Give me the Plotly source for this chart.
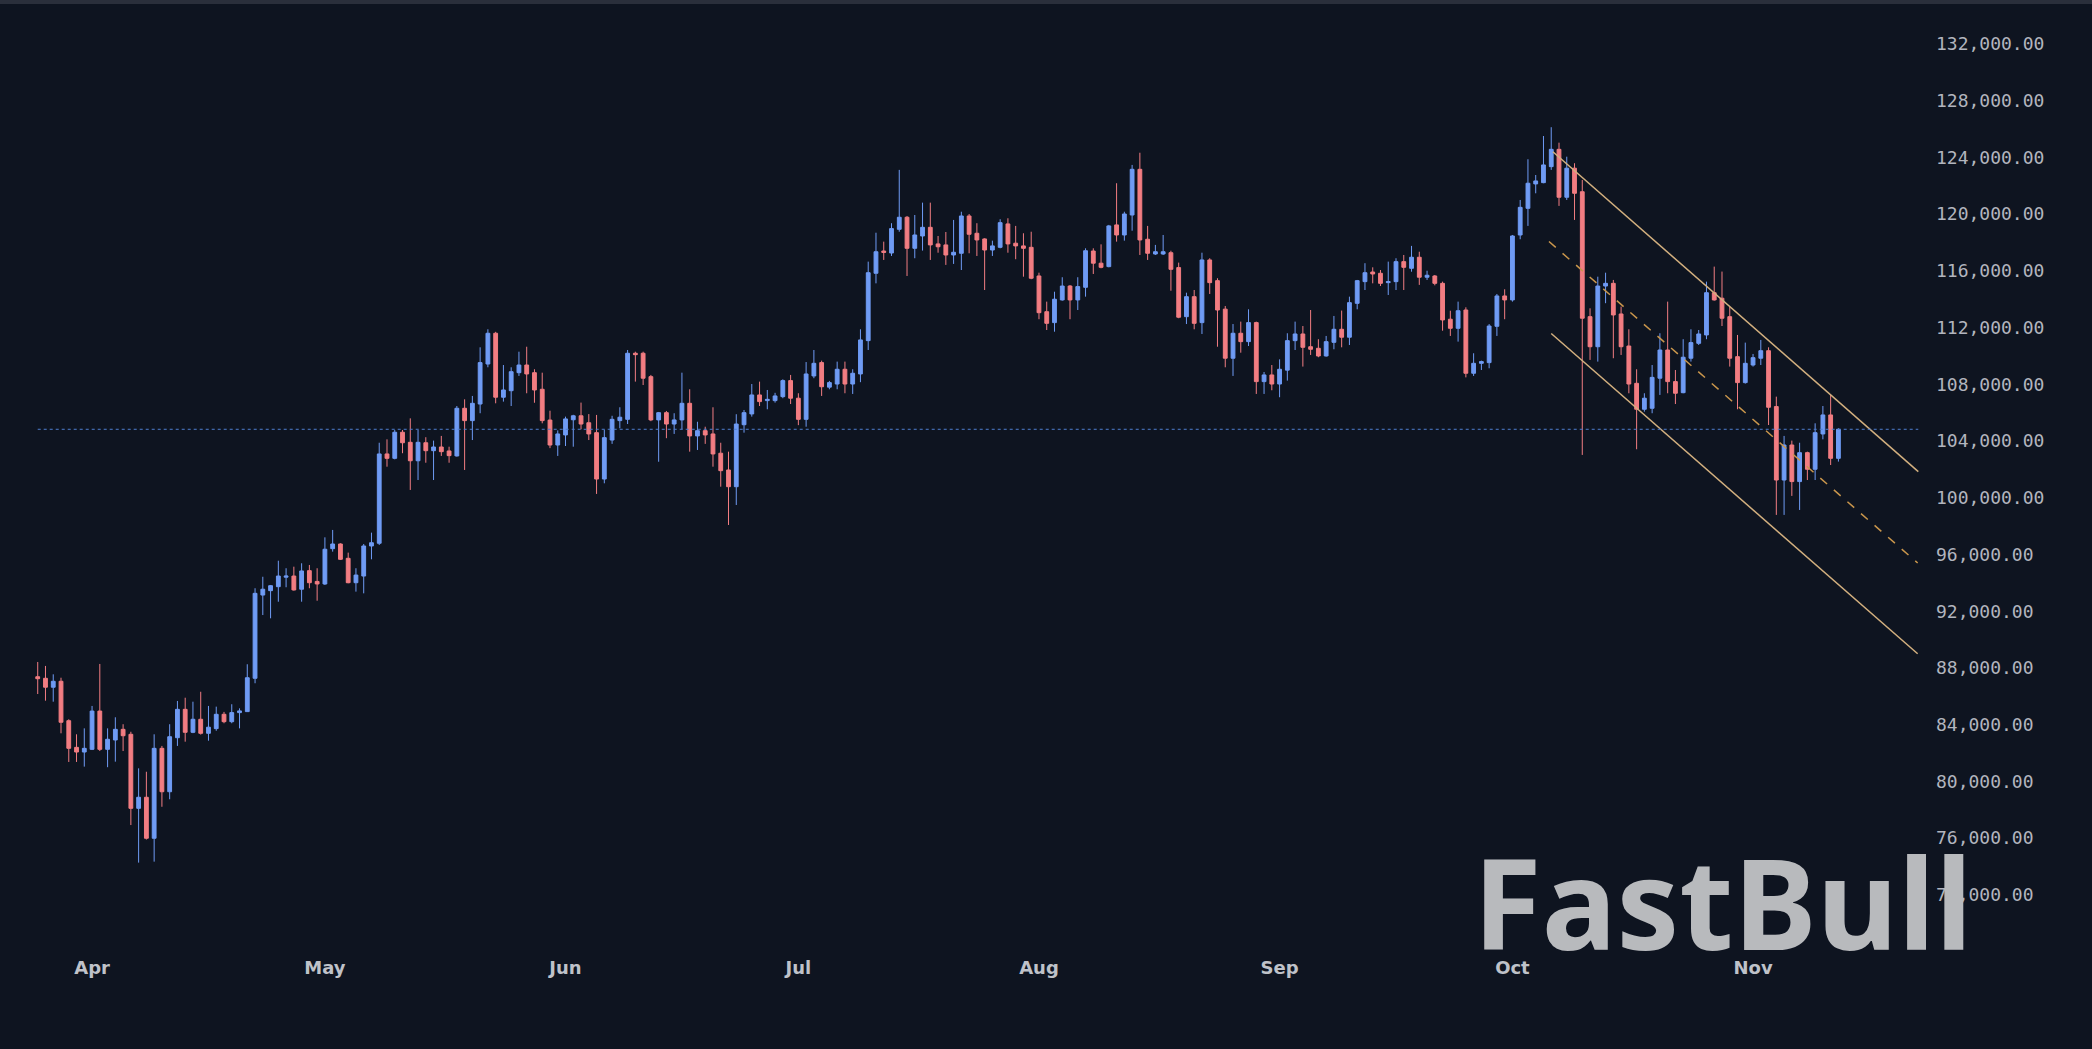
import pandas as pd
import plotly.graph_objects as go

# ---------------- data ----------------
start_date = "2025-03-25"

opens = [87380, 87270, 86640, 87060, 84280, 82400, 82070, 82260, 84960, 82260,
         82920, 83670, 83320, 78100, 78880, 75990, 82330, 79270, 83080, 85080,
         83460, 84380, 83390, 83720, 84730, 84210, 84850, 84920, 87270, 93140,
         93450, 93730, 94400, 94480, 93550, 94860, 94100, 93920, 96410, 96740,
         95730, 94010, 94480, 96600, 96790, 103090, 102780, 104620, 103910, 102610,
         103880, 103320, 103580, 103300, 102950, 106310, 105440, 106610, 109430, 111600,
         107090, 107550, 108820, 109360, 108820, 107650, 105480, 103720, 104430, 105500,
         105780, 105290, 104590, 101320, 104070, 105440, 105530, 110190, 110190, 108540,
         105490, 106000, 105200, 105490, 106660, 104360, 104730, 104500, 103140, 101960,
         100780, 105150, 105910, 107250, 106850, 106850, 107130, 108260, 107020, 105530,
         108590, 109530, 107800, 108020, 109060, 108020, 108730, 111080, 115830, 117400,
         117260, 118930, 119780, 117590, 118460, 119070, 117900, 117830, 117120, 117240,
         119870, 118650, 118250, 117470, 117660, 119310, 117950, 117760, 117660, 115640,
         113120, 112350, 113950, 114930, 113950, 114840, 117400, 116540, 116300, 119240,
         118530, 119940, 123160, 118230, 117190, 117190, 117280, 116230, 112770, 114180,
         112350, 116770, 115310, 113300, 109840, 111600, 111010, 112350, 108190, 108660,
         108020, 109000, 111080, 111550, 110650, 110540, 110000, 110960, 111880, 111320,
         113710, 115240, 115920, 115830, 115170, 115240, 116650, 116180, 116960, 115550,
         115640, 115120, 112590, 111950, 113240, 108780, 109480, 109530, 112090, 114230,
         113950, 118530, 120410, 122130, 122220, 123350, 124570, 121190, 123240, 121580,
         112770, 110650, 114930, 115120, 112960, 110700, 108070, 106240, 106310, 108430,
         110420, 108190, 107410, 109840, 110890, 111480, 114460, 114070, 112770, 109950,
         108120, 109360, 109840, 110370, 106430, 101250, 103720, 101140, 103180, 102010,
         104500, 105840, 102780]

highs = [88420, 88140, 87550, 87310, 84380, 83320, 83740, 85320, 88280, 83740,
         84520, 84030, 83500, 80920, 80680, 83320, 82500, 84030, 85670, 85900,
         85620, 86320, 85320, 85270, 84900, 85440, 85150, 88260, 93620, 94430,
         93850, 95560, 95030, 95140, 95380, 95260, 95030, 97210, 97730, 96790,
         96130, 95030, 96740, 97540, 103880, 104120, 104780, 104780, 105600, 104780,
         104270, 104030, 104360, 103600, 106470, 106940, 107180, 110610, 111880, 111700,
         109360, 109200, 110300, 110650, 109060, 108820, 106140, 104750, 105720, 105850,
         106710, 105900, 105840, 104800, 105780, 106380, 110420, 110300, 110300, 108660,
         106050, 106120, 105960, 108820, 107650, 105360, 105010, 106380, 103880, 103250,
         105890, 106190, 108020, 108190, 107600, 107400, 108350, 108660, 107370, 109570,
         110420, 109670, 108240, 109600, 109600, 109060, 111880, 116650, 118690, 118060,
         119360, 123120, 119870, 119940, 120810, 120810, 118460, 118740, 119590, 120170,
         120010, 119360, 118300, 118130, 119640, 119710, 119170, 118650, 118760, 115870,
         113830, 114530, 115550, 115000, 115550, 117590, 117590, 117870, 119240, 122180,
         120170, 123470, 124330, 119170, 117830, 118530, 117420, 116580, 114460, 114650,
         117280, 116890, 115480, 113520, 112250, 112420, 113290, 112420, 108870, 109360,
         109760, 111600, 112420, 112110, 113240, 111180, 111410, 112820, 113200, 114180,
         115360, 116540, 116250, 116060, 116650, 116890, 117120, 117760, 117350, 116010,
         115710, 115240, 113190, 113830, 113430, 110190, 109670, 112250, 114370, 114700,
         118530, 121000, 123870, 122760, 125510, 126130, 125040, 124050, 123590, 122410,
         113360, 115590, 115870, 115360, 113480, 111880, 109060, 107370, 109360, 111600,
         113830, 109010, 111180, 111880, 111830, 115240, 116300, 115950, 113480, 111480,
         110940, 110140, 111130, 110610, 107130, 104360, 104030, 103880, 103250, 105250,
         106470, 107250, 104900]

lows = [86160, 85690, 85620, 83390, 81370, 81370, 81040, 82210, 82140, 81000,
        81390, 82140, 76920, 74270, 75900, 74340, 78210, 78740, 82500, 82800,
        83400, 83300, 82870, 83570, 84100, 84100, 83740, 84900, 86920, 91730,
        91500, 92670, 93690, 93450, 92670, 93620, 92740, 93850, 96200, 95610,
        93970, 93380, 93260, 95660, 96670, 102190, 102710, 103140, 100550, 101250,
        102470, 101250, 102950, 102470, 102900, 101960, 104070, 105960, 109200, 106660,
        106780, 106470, 108590, 107370, 106700, 105250, 103500, 102950, 103650, 103600,
        104830, 104070, 100270, 101020, 103800, 104900, 105200, 108190, 107950, 105400,
        102540, 104200, 104500, 104830, 103250, 103370, 103800, 102190, 100780, 98080,
        99490, 104590, 105720, 106470, 106240, 106710, 107020, 106610, 105120, 105010,
        108430, 107180, 107650, 107650, 107370, 107320, 108150, 110420, 115120, 116770,
        117050, 118760, 115640, 116890, 117430, 116770, 117280, 116420, 116490, 116060,
        117240, 117050, 114650, 117050, 117590, 117280, 116820, 115590, 115410, 112590,
        111830, 111710, 113900, 112590, 113240, 114180, 115780, 116180, 116250, 118060,
        118130, 118830, 117120, 116770, 117120, 117120, 114600, 112660, 112250, 111880,
        111550, 114370, 110650, 109200, 108590, 110230, 110700, 107320, 107320, 107580,
        107090, 108260, 110420, 109250, 110070, 109910, 109950, 110470, 110610, 110770,
        113290, 114650, 115120, 114930, 114300, 114650, 114650, 115940, 115010, 115360,
        114980, 111780, 111410, 111010, 108490, 108590, 109010, 109130, 111410, 112590,
        113830, 118230, 119170, 121470, 122180, 123120, 120580, 121000, 119590, 103020,
        109720, 109600, 113720, 109840, 110070, 107370, 103420, 106070, 105960, 107250,
        107370, 106610, 107370, 109600, 110770, 111180, 113900, 112110, 109250, 106240,
        108050, 109250, 109360, 105130, 98790, 98790, 100130, 99140, 101250, 101250,
        104120, 102310, 102550]

closes = [87240, 86640, 87060, 84170, 82330, 82070, 82330, 84960, 82260, 82970,
          83670, 83220, 78100, 78880, 75990, 82330, 79270, 83150, 85080, 83460,
          84380, 83390, 83820, 84730, 84210, 84850, 84970, 87310, 93260, 93550,
          93800, 94480, 94480, 93500, 94840, 94010, 93920, 96370, 96740, 95660,
          94010, 94550, 96600, 96830, 103090, 102780, 104620, 103880, 102610, 103910,
          103320, 103580, 103250, 102970, 106310, 105440, 106660, 109530, 111600, 107090,
          107600, 108890, 109360, 108730, 107600, 105440, 103720, 104500, 105560, 105780,
          105200, 104500, 101320, 104240, 105530, 105680, 110190, 110090, 108430, 105490,
          106000, 105200, 105490, 106660, 104360, 104730, 104430, 103090, 101910, 100780,
          105200, 106000, 107250, 106780, 106940, 107180, 108260, 107020, 105530, 108730,
          109480, 107830, 108120, 109060, 108020, 108780, 111130, 115870, 117350, 117300,
          118980, 119780, 117590, 118530, 119070, 117830, 117700, 117120, 117310, 119870,
          118580, 118180, 117470, 117760, 119400, 117900, 117760, 117590, 115480, 113050,
          112300, 114000, 114930, 113950, 114890, 117420, 116540, 116250, 119170, 118530,
          120010, 123160, 118180, 117240, 117350, 117350, 116110, 112730, 114180, 112300,
          116770, 115170, 113240, 109840, 111600, 111010, 112350, 108190, 108660, 108020,
          109060, 111080, 111550, 110610, 110470, 110000, 111010, 111880, 111320, 113760,
          115310, 115870, 115780, 115120, 115240, 116650, 116250, 116960, 115550, 115690,
          115120, 112540, 111950, 113190, 108780, 109480, 109600, 112110, 114230, 113950,
          118460, 120480, 122180, 122340, 123470, 124570, 121190, 123240, 121470, 112660,
          110650, 114930, 115120, 112890, 110650, 108020, 106240, 107020, 108490, 110420,
          108190, 107370, 109910, 110940, 111550, 114460, 113950, 112660, 109840, 108120,
          109480, 109880, 110370, 106380, 101250, 103720, 101140, 103180, 102010, 104590,
          105840, 102780, 104830]

month_ticks = ["2025-04-01", "2025-05-01", "2025-06-01", "2025-07-01",
               "2025-08-01", "2025-09-01", "2025-10-01", "2025-11-01"]
month_labels = ["Apr", "May", "Jun", "Jul", "Aug", "Sep", "Oct", "Nov"]

# descending channel drawn on the chart: (start, end) dates and prices
channel_upper_x = ["2025-10-06 05:00", "2025-11-22 07:00"]
channel_upper_y = [124400, 101840]
channel_mid_x = ["2025-10-05 17:00", "2025-11-22 05:00"]
channel_mid_y = [118070, 95400]
channel_lower_x = ["2025-10-06 00:00", "2025-11-22 05:00"]
channel_lower_y = [111580, 89000]

last_price = closes[-1]
price_line_end = "2025-11-22 07:00"

# ---------------- style ----------------
BG = "#0e1420"
UP = "#6f9bf4"
DOWN = "#f27d82"
TXT = "#b2b5be"
CHANNEL = "#d3b07f"
CHANNEL_MID = "#c9964c"

dates = pd.date_range(start_date, periods=len(opens), freq="D")

fig = go.Figure()
fig.add_trace(go.Candlestick(
    x=dates, open=opens, high=highs, low=lows, close=closes,
    increasing=dict(line=dict(color=UP, width=1), fillcolor=UP),
    decreasing=dict(line=dict(color=DOWN, width=1), fillcolor=DOWN),
    hoverinfo="skip", showlegend=False,
))

for xs, ys, col, dash in [(channel_upper_x, channel_upper_y, CHANNEL, "solid"),
                          (channel_mid_x, channel_mid_y, CHANNEL_MID, "dash"),
                          (channel_lower_x, channel_lower_y, CHANNEL, "solid")]:
    fig.add_trace(go.Scatter(x=pd.to_datetime(xs), y=ys, mode="lines",
                             line=dict(color=col, width=1.5, dash=dash),
                             hoverinfo="skip", showlegend=False))

# last price dotted line
fig.add_trace(go.Scatter(x=[dates[0], pd.Timestamp(price_line_end)],
                         y=[last_price, last_price], mode="lines",
                         line=dict(color="#4f7fd0", width=1, dash="dot"),
                         hoverinfo="skip", showlegend=False))

x0 = pd.Timestamp(start_date) - pd.Timedelta(days=4.86)
x1 = pd.Timestamp(start_date) + pd.Timedelta(days=243.8)

fig.update_layout(
    width=2092, height=1049,
    paper_bgcolor=BG, plot_bgcolor=BG,
    margin=dict(l=0, r=162, t=0, b=99),
    showlegend=False,
    hovermode=False,
    xaxis=dict(
        type="date", range=[x0, x1], rangeslider=dict(visible=False),
        showgrid=False, zeroline=False, showline=False,
        tickmode="array", tickvals=month_ticks, ticktext=month_labels,
        tickfont=dict(family="DejaVu Sans", size=18, color="#bfc2c9", weight="bold"),
        ticks="", ticklabelstandoff=5,
    ),
    yaxis=dict(
        side="right", range=[68110, 135100],
        showgrid=False, zeroline=False, showline=False,
        tick0=0, dtick=4000, tickformat=",.2f",
        tickfont=dict(family="DejaVu Sans Mono", size=18, color=TXT),
        ticks="", ticklabelstandoff=5,
    ),
    shapes=[dict(type="rect", xref="paper", yref="paper",
                 x0=0, x1=2092 / 1930, y0=1 - 4 / 950, y1=1,
                 fillcolor="#2a2f3b", line=dict(width=0), layer="above")],
    annotations=[dict(text="<b>FastBull</b>", xref="paper", yref="paper",
                      x=1722 / 1930, y=1 - 901 / 950, xanchor="center", yanchor="middle",
                      showarrow=False,
                      font=dict(family="Noto Sans", size=125, color="#b8babd"))],
)

fig.write_html("out.html")
